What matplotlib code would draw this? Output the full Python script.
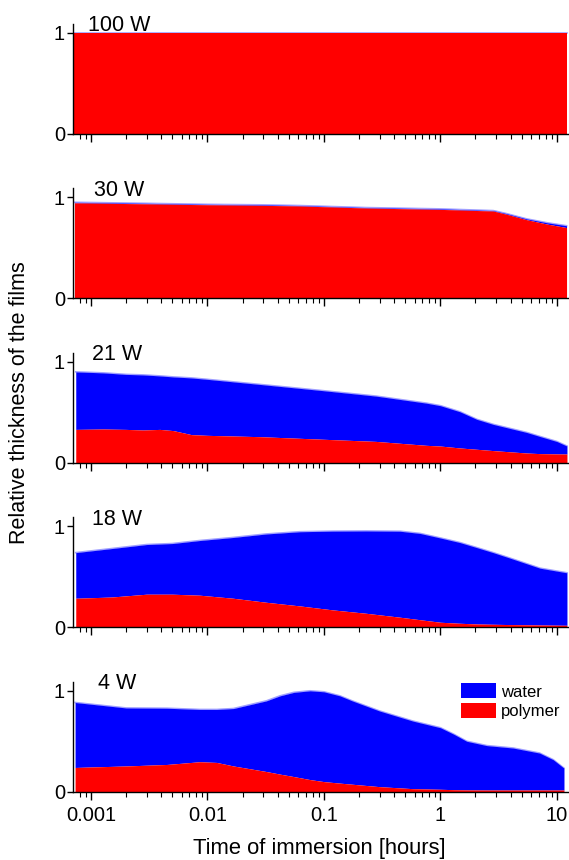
import numpy as np
import matplotlib
matplotlib.use("Agg")
import matplotlib.pyplot as plt
from matplotlib.patches import Patch

plt.rcParams['font.family'] = ['Liberation Sans', 'DejaVu Sans']

# power labels for each panel
labels = ["100 W", "30 W", "21 W", "18 W", "4 W"]

# time of immersion [hours] and relative thickness (total film / polymer part)
t1 = [0.00072, 0.01, 0.1, 1.0, 12.2]
total1 = [1.0, 1.0, 1.0, 1.0, 1.0]
poly1 = [0.997, 0.997, 0.997, 0.997, 0.997]

t2 = [0.00072, 0.001, 0.003, 0.01, 0.03, 0.062, 0.23, 1.0, 2.84, 3.7, 5.5, 8.2, 12.1]
total2 = [0.95, 0.948, 0.94, 0.93, 0.925, 0.918, 0.898, 0.885, 0.868, 0.838, 0.786, 0.748, 0.718]
poly2 = [0.945, 0.943, 0.935, 0.926, 0.92, 0.914, 0.894, 0.88, 0.864, 0.832, 0.778, 0.735, 0.70]

t3 = [0.00074, 0.00128, 0.002, 0.0028, 0.0039, 0.0051, 0.0073, 0.01, 0.028, 0.1,
      0.28, 0.76, 1.0, 1.47, 2.05, 2.84, 3.95, 5.5, 7.15, 10, 12.2]
total3 = [0.90, 0.89, 0.875, 0.87, 0.86, 0.85, 0.84, 0.826, 0.776, 0.713,
          0.66, 0.59, 0.565, 0.505, 0.43, 0.38, 0.34, 0.30, 0.26, 0.21, 0.165]
poly3 = [0.33, 0.334, 0.33, 0.324, 0.33, 0.318, 0.278, 0.271, 0.258, 0.232,
         0.211, 0.172, 0.165, 0.146, 0.133, 0.12, 0.108, 0.096, 0.09, 0.087, 0.086]

t4 = [0.00074, 0.0015, 0.003, 0.005, 0.0086, 0.0166, 0.032, 0.062, 0.12, 0.23,
      0.45, 0.67, 1.0, 1.47, 2.05, 2.84, 3.95, 7.15, 12.2]
total4 = [0.74, 0.78, 0.82, 0.83, 0.86, 0.89, 0.925, 0.947, 0.953, 0.955,
          0.952, 0.93, 0.885, 0.84, 0.79, 0.74, 0.686, 0.586, 0.54]
poly4 = [0.288, 0.30, 0.328, 0.328, 0.318, 0.288, 0.248, 0.212, 0.172, 0.139,
         0.10, 0.075, 0.05, 0.04, 0.033, 0.03, 0.027, 0.023, 0.02]

t5 = [0.00073, 0.001, 0.002, 0.0045, 0.0086, 0.012, 0.0167, 0.032, 0.042, 0.055,
      0.076, 0.1, 0.137, 0.175, 0.3, 0.58, 1.0, 1.3, 1.68, 2.5, 4.2, 7.1, 9.3, 11.5]
total5 = [0.884, 0.867, 0.83, 0.827, 0.815, 0.815, 0.824, 0.90, 0.95, 0.984,
          1.0, 0.99, 0.95, 0.90, 0.80, 0.70, 0.634, 0.57, 0.50, 0.457, 0.433, 0.383, 0.317, 0.233]
poly5 = [0.24, 0.245, 0.255, 0.27, 0.297, 0.29, 0.255, 0.20, 0.174, 0.15,
         0.12, 0.10, 0.085, 0.074, 0.05, 0.03, 0.024, 0.02, 0.018, 0.017, 0.017, 0.017, 0.017, 0.017]

times = [t1, t2, t3, t4, t5]
totals = [total1, total2, total3, total4, total5]
polys = [poly1, poly2, poly3, poly4, poly5]
label_x = [0.00094, 0.00106, 0.00103, 0.00103, 0.00116]

fig = plt.figure(figsize=(5.69, 8.6), dpi=100)

# bottom of each panel (pixels from the top)
bottoms_px = [133.7, 298.2, 462.7, 627.3, 791.7]
axes = []
for i in range(5):
    ax = fig.add_axes([73.3 / 569, 1 - bottoms_px[i] / 860, 1 - 73.3 / 569, 110 / 860])
    t = np.array(times[i])
    tot = np.array(totals[i])
    pol = np.array(polys[i])
    ax.plot(t, tot, color='#a0a0ff', lw=1.2, zorder=1)
    ax.fill_between(t, pol, tot, color='#0000ff', lw=0, zorder=2)
    ax.fill_between(t, 0, pol, color='#ff0000', lw=0, zorder=3)
    ax.set_xscale('log')
    ax.set_xlim(0.000705, 12.7)
    ax.set_ylim(0, 1.09)
    ax.set_yticks([0, 1])
    ax.set_yticklabels(['0', '1'])
    for s in ['top', 'right']:
        ax.spines[s].set_visible(False)
    ax.spines['left'].set_linewidth(1)
    ax.spines['bottom'].set_linewidth(1)
    ax.spines['left'].set_zorder(5)
    ax.spines['bottom'].set_zorder(5)
    ax.tick_params(axis='y', direction='out', length=4, width=1, pad=2, labelsize=14.5)
    ax.tick_params(axis='x', which='major', direction='out', length=6, width=1, pad=4, labelsize=14.5)
    ax.tick_params(axis='x', which='minor', direction='out', length=3.5, width=0.8)
    ax.xaxis.set_minor_locator(matplotlib.ticker.LogLocator(base=10, subs=np.arange(2, 10), numticks=20))
    ax.text(label_x[i], 1.015, labels[i], fontsize=15.5, va='baseline', ha='left')
    if i < 4:
        ax.set_xticklabels([])
    else:
        ax.set_xticks([0.001, 0.01, 0.1, 1, 10])
        ax.set_xticklabels(['0.001', '0.01', '0.1', '1', '10'])
    axes.append(ax)

handles = [Patch(facecolor='#0000ff', edgecolor='none', label='water'),
           Patch(facecolor='#ff0000', edgecolor='none', label='polymer')]
axes[4].legend(handles=handles, loc='upper left', bbox_to_anchor=(0.782, 0.985),
               frameon=False, fontsize=12, handlelength=2.1, handleheight=1.0,
               handletextpad=0.3, labelspacing=0.2, borderpad=0, borderaxespad=0)

fig.text(0.034, 0.532, 'Relative thickness of the films', rotation=90,
         ha='center', va='center', fontsize=15.5)
fig.text(0.5615, 0.0135, 'Time of immersion [hours]', ha='center', va='center', fontsize=15.8)

fig.savefig('out.png', dpi=100)
